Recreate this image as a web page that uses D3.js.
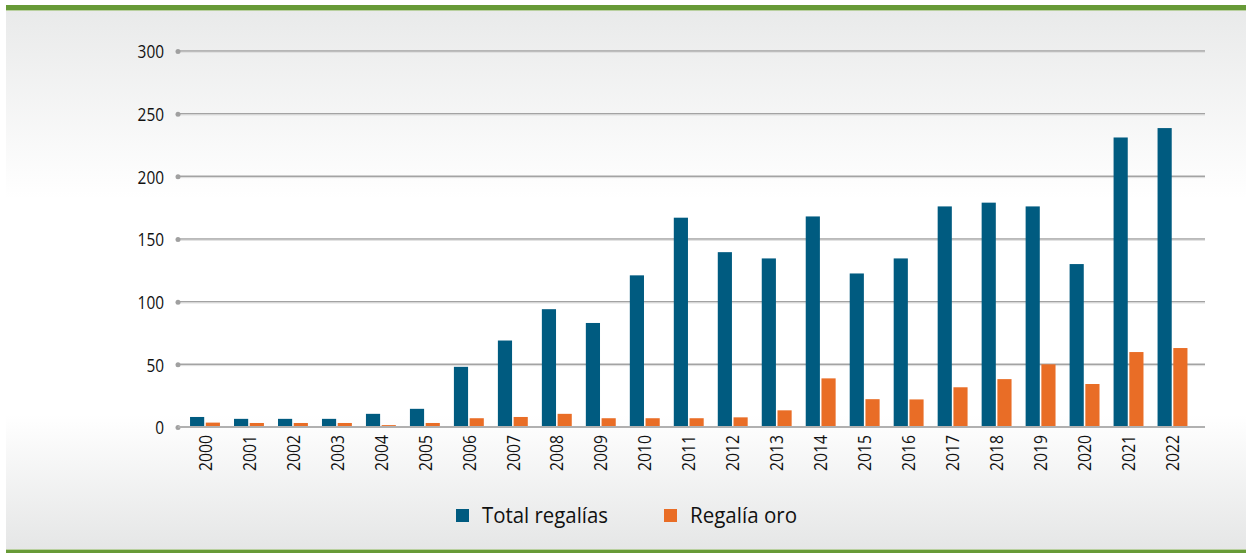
<!DOCTYPE html>
<html><head><meta charset="utf-8">
<script src="https://cdn.jsdelivr.net/npm/d3@7"></script>
<style>html,body{margin:0;padding:0;background:#fff;}svg{display:block;}</style>
</head><body>
<svg id="chart" width="1246" height="553"></svg>
<script>
const years = ["2000","2001","2002","2003","2004","2005","2006","2007","2008","2009","2010","2011","2012","2013","2014","2015","2016","2017","2018","2019","2020","2021","2022"];
const totalRegalias = [8,6.5,6.5,6.5,10.5,14.5,48,69,94,83,121,167,139.5,134.5,168,122.5,134.5,176,179,176,130,231,238.5];
const regaliaOro = [3.5,3.2,3.2,3.2,1.5,3.2,7,8,10.5,7,7,7,7.7,13.3,38.8,22.2,22,31.7,38.2,50,34.3,59.8,63];
const yTicks = [0,50,100,150,200,250,300];
const seriesNames = ["Total regalías","Regalía oro"];
const colors = ["#005b80","#e96d26"];

const svg = d3.select("#chart");
const defs = svg.append("defs");
const g = defs.append("linearGradient").attr("id","bg").attr("x1",0).attr("x2",0).attr("y1",0).attr("y2",1);
g.append("stop").attr("offset","0%").attr("stop-color","#e9eaea");
g.append("stop").attr("offset","35%").attr("stop-color","#ffffff");
g.append("stop").attr("offset","75%").attr("stop-color","#ffffff");
g.append("stop").attr("offset","100%").attr("stop-color","#e5e6e6");

svg.append("rect").attr("x",6).attr("y",10).attr("width",1240).attr("height",540).attr("fill","url(#bg)");
svg.append("rect").attr("x",6).attr("y",5).attr("width",1240).attr("height",5).attr("fill","#679a37");
svg.append("rect").attr("x",6).attr("y",10).attr("width",1240).attr("height",1).attr("fill","#b9d09f");
svg.append("rect").attr("x",6).attr("y",550).attr("width",1240).attr("height",3).attr("fill","#679a37");
svg.append("rect").attr("x",6).attr("y",549).attr("width",1240).attr("height",1).attr("fill","#b9d09f");

const y = d3.scaleLinear().domain([0,300]).range([427,51]);
const x0 = d3.scaleBand().domain(years).range([183,1194.5]).paddingInner(0.32).paddingOuter(0.16);
const x1 = d3.scaleBand().domain([0,1]).range([0,x0.bandwidth()]).paddingInner(0.1);

const font = "'Open Sans', 'Noto Sans', sans-serif";

// gridlines
const grid = svg.append("g");
grid.selectAll("line.g").data(yTicks.filter(d=>d>0)).enter().append("line")
  .attr("x1",178).attr("x2",1205).attr("y1",d=>y(d)).attr("y2",d=>y(d))
  .attr("stroke","#a3a3a3").attr("stroke-width",1.5);
grid.selectAll("line.s").data(yTicks.filter(d=>d>0)).enter().append("line")
  .attr("x1",178).attr("x2",1205).attr("y1",d=>y(d)+1.3).attr("y2",d=>y(d)+1.3)
  .attr("stroke","#dcdcdc").attr("stroke-width",1);

// y axis via d3 axis
const yAxis = d3.axisLeft(y).tickValues(yTicks).tickSize(0).tickPadding(14);
const ya = svg.append("g").attr("transform","translate(178,0)").call(yAxis);
ya.select(".domain").remove();
ya.selectAll("text").attr("font-family",font).attr("font-size",18.5).attr("fill","#111").attr("dy","0.36em")
  .attr("textLength",d=>String(d).length*8.8).attr("lengthAdjust","spacingAndGlyphs");
ya.selectAll(".tick").append("circle").attr("r",2.5).attr("fill","#a0a0a0");

// bars
const groups = svg.append("g").selectAll("g").data(years).enter().append("g")
  .attr("transform",d=>`translate(${x0(d)},0)`);
groups.selectAll("rect").data((d,i)=>[totalRegalias[i],regaliaOro[i]]).enter().append("rect")
  .attr("x",(d,j)=>x1(j)).attr("width",x1.bandwidth())
  .attr("y",d=>y(d)).attr("height",d=>y(0)-y(d))
  .attr("fill",(d,j)=>colors[j]);

// baseline
svg.append("line").attr("x1",178).attr("x2",1205).attr("y1",y(0)).attr("y2",y(0))
  .attr("stroke","#b0b0b0").attr("stroke-width",2);

// x axis
const xAxis = d3.axisBottom(x0).tickSize(0).tickPadding(0);
const xa = svg.append("g").attr("transform",`translate(0,${y(0)})`).call(xAxis);
xa.select(".domain").remove();
xa.selectAll("text").attr("font-family",font).attr("font-size",18.5).attr("fill","#111")
  .attr("transform","rotate(-90)").attr("text-anchor","end")
  .attr("x",-8).attr("y",0).attr("dy","0.36em")
  .attr("textLength",36).attr("lengthAdjust","spacingAndGlyphs");

// legend
const leg = svg.append("g");
const legX = [456,664];
seriesNames.forEach((n,i)=>{
  leg.append("rect").attr("x",legX[i]).attr("y",509).attr("width",13).attr("height",13).attr("fill",colors[i]);
  leg.append("text").attr("x",legX[i]+26).attr("y",523).attr("font-family",font).attr("font-size",21)
    .attr("fill","#111").attr("textLength",i===0?126:107).attr("lengthAdjust","spacingAndGlyphs").text(n);
});
</script>
</body></html>
